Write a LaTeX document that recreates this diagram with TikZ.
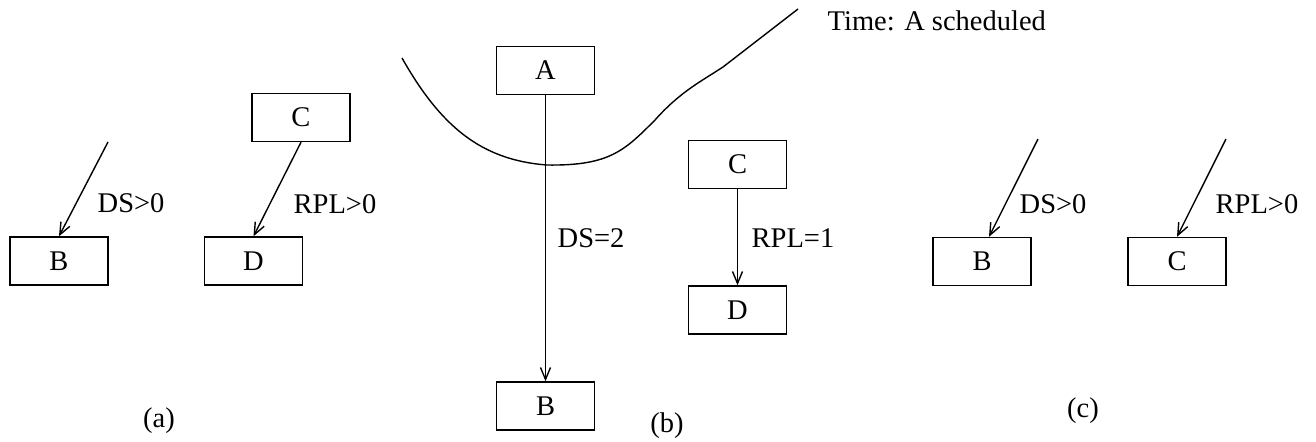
\documentclass[tikz,border=0pt]{standalone}
\usepackage{fontspec}
\setmainfont{Liberation Serif}
\usetikzlibrary{arrows.meta}
\begin{document}
\begin{tikzpicture}[x=0.5pt,y=-0.5pt,
  font=\fontsize{14.25pt}{17pt}\selectfont,
  line width=0.7pt,
  task/.style={draw, minimum width=49pt, minimum height=24pt, inner sep=0pt},
  dep/.style={-{Straight Barb[length=6pt,width=5pt,line width=0.7pt]}},
  lbl/.style={anchor=base west, inner sep=0pt},
  caption/.style={anchor=base, inner sep=0pt}]
\useasboundingbox (0,0) rectangle (1316,441);

% (a) B and D, each with a pending dependence
\node[task] (aB) at (59,261) {B};
\node[task] (aC) at (301,117.5) {C};
\node[task] (aD) at (253.5,261) {D};
\coordinate (aS) at (108,142);
\draw[dep] (aS) -- (aB.north);
\draw[dep] (aC.south) -- (aD.north);
\node[lbl] (aDS) at (97,212) {DS>0};
\node[lbl] (aRPL) at (293,213) {RPL>0};
\node[caption] (acap) at (159,427) {(a)};

% (b) time line at the moment A is scheduled
\draw (402,58) .. controls (440,125) and (480,160) .. (547,165)
  .. controls (610,166) and (625,150) .. (655,120)
  .. controls (680,92) and (700,82) .. (723,67) -- (798,9);
\node[task] (bA) at (545.5,70.5) {A};
\node[task] (bB) at (545.5,406) {B};
\node[task] (bC) at (737.5,164.5) {C};
\node[task] (bD) at (737.5,310) {D};
\draw[dep] (bA.south) -- (bB.north);
\draw[dep] (bC.south) -- (bD.north);
\node[lbl] (bDS) at (557,247) {DS=2};
\node[lbl] (bRPL) at (751,247) {RPL=1};
\node[lbl] (time) at (827,30) {Time: A scheduled};
\node[caption] (bcap) at (667,432) {(b)};

% (c) B and C, each with a pending dependence
\node[task] (cB) at (982,261.5) {B};
\node[task] (cC) at (1177,261.5) {C};
\coordinate (cS1) at (1038,139);
\coordinate (cS2) at (1226,139);
\draw[dep] (cS1) -- ([xshift=3.5pt]cB.north);
\draw[dep] (cS2) -- (cC.north);
\node[lbl] (cDS) at (1019,213) {DS>0};
\node[lbl] (cRPL) at (1215,213) {RPL>0};
\node[caption] (ccap) at (1083,417) {(c)};
\end{tikzpicture}
\end{document}
